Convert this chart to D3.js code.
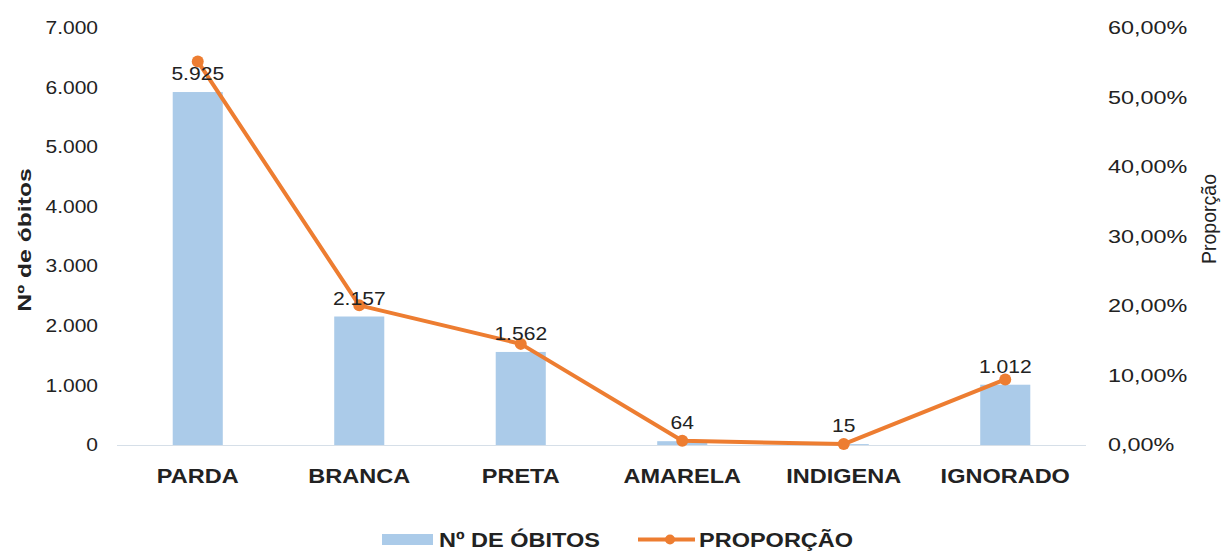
<!DOCTYPE html>
<html><head><meta charset="utf-8">
<script src="https://cdn.jsdelivr.net/npm/d3@7"></script>
<style>body{margin:0;background:#fff}svg{display:block;font-family:"Liberation Sans",Arial,sans-serif}</style>
</head><body><svg id="c" width="1224" height="551"></svg>
<script>
const categories = ["PARDA","BRANCA","PRETA","AMARELA","INDIGENA","IGNORADO"];
const obitos = [5925,2157,1562,64,15,1012];
const proporcao = [0.5519,0.2009,0.1455,0.0060,0.0014,0.0943];
const leftTicks = [0,1000,2000,3000,4000,5000,6000,7000];
const rightTicks = [0,0.1,0.2,0.3,0.4,0.5,0.6];

const svg = d3.select("#c");
const x0 = 117, x1 = 1086, yb = 445, yt = 28;
const x = d3.scaleBand().domain(categories).range([x0,x1]).paddingInner(0.69).paddingOuter(0.345);
const yL = d3.scaleLinear().domain([0,7000]).range([yb,yt]);
const yR = d3.scaleLinear().domain([0,0.6]).range([yb,yt]);
const fmtN = v => d3.format(",")(v).replace(/,/g,".");
const fmtP = v => (v*100).toFixed(2).replace(".",",")+"%";
const TXT = "#222";

// stretched text helper
function stext(g, x, y, str, size, k, opts={}) {
  const t = g.append("text")
    .attr("transform", `translate(${x},${y})${opts.rot?` rotate(${opts.rot})`:""} scale(${k},1)`)
    .attr("font-size", size).attr("fill", TXT)
    .attr("text-anchor", opts.anchor || "start")
    .attr("font-weight", opts.bold ? "bold" : "normal")
    .text(str);
  return t;
}

// bars
svg.append("g").selectAll("rect").data(obitos).join("rect")
  .attr("x",(d,i)=>x(categories[i])).attr("width",x.bandwidth())
  .attr("y",d=>yL(d)).attr("height",d=>yb-yL(d)).attr("fill","#abcbe9");

// baseline
svg.append("line").attr("x1",x0).attr("x2",x1).attr("y1",yb+0.5).attr("y2",yb+0.5)
  .attr("stroke","#d6dfe8").attr("stroke-width",1.2);

// left axis
const gl = svg.append("g").attr("transform",`translate(98,0)`)
  .call(d3.axisLeft(yL).tickValues(leftTicks).tickFormat(fmtN).tickSize(0).tickPadding(0));
gl.select(".domain").remove();
gl.selectAll("text").attr("font-size",17.5).attr("fill",TXT)
  .attr("font-family","Liberation Sans, Arial, sans-serif").attr("transform","scale(1.2,1)");

// right axis
const gr = svg.append("g").attr("transform",`translate(1108,0)`)
  .call(d3.axisRight(yR).tickValues(rightTicks).tickFormat(fmtP).tickSize(0).tickPadding(0));
gr.select(".domain").remove();
gr.selectAll("text").attr("font-size",18).attr("fill",TXT)
  .attr("font-family","Liberation Sans, Arial, sans-serif").attr("transform","scale(1.3,1)");

// category labels
const gc = svg.append("g");
categories.forEach(c => stext(gc, x(c)+x.bandwidth()/2, 483, c, 21, 1.12, {anchor:"middle", bold:true}));

// line
const cx = i => x(categories[i])+x.bandwidth()/2;
const line = d3.line().x((d,i)=>cx(i)).y(d=>yR(d));
svg.append("path").datum(proporcao).attr("d",line).attr("fill","none")
  .attr("stroke","#ed7d31").attr("stroke-width",4).attr("stroke-linejoin","round");
svg.append("g").selectAll("circle").data(proporcao).join("circle")
  .attr("cx",(d,i)=>cx(i)).attr("cy",d=>yR(d)).attr("r",6).attr("fill","#ed7d31");

// data labels
const gd = svg.append("g");
obitos.forEach((v,i) => stext(gd, cx(i), yL(v)-12, fmtN(v), 18, 1.17, {anchor:"middle"}));

// axis titles
stext(svg, 31, 240, "Nº de óbitos", 19, 1.3, {anchor:"middle", bold:true, rot:-90});
stext(svg, 1216, 219, "Proporção", 19.5, 1.0, {anchor:"middle", rot:-90});

// legend
const lg = svg.append("g");
lg.append("rect").attr("x",382).attr("y",534).attr("width",51).attr("height",11).attr("fill","#abcbe9");
stext(lg, 439, 547, "Nº DE ÓBITOS", 21, 1.12, {bold:true});
lg.append("line").attr("x1",638).attr("x2",695).attr("y1",539.5).attr("y2",539.5).attr("stroke","#ed7d31").attr("stroke-width",4);
lg.append("circle").attr("cx",670).attr("cy",539.5).attr("r",5).attr("fill","#ed7d31");
stext(lg, 699, 547, "PROPORÇÃO", 21, 1.12, {bold:true});
</script></body></html>
